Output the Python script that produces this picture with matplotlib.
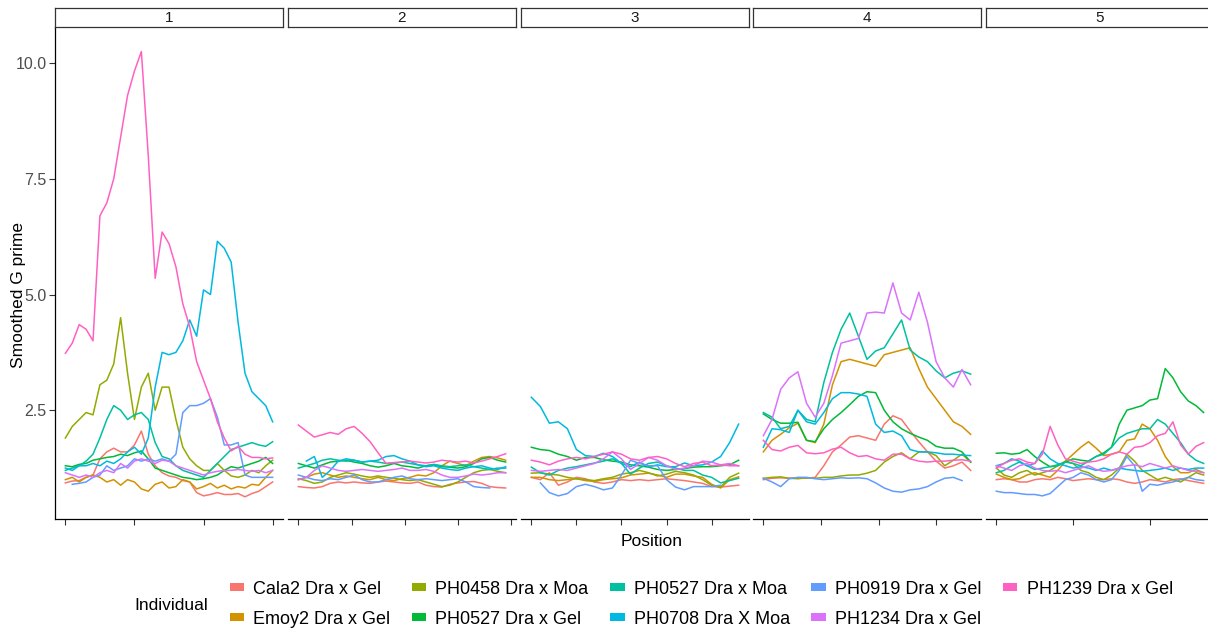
import numpy as np
import matplotlib.pyplot as plt
from matplotlib.patches import Patch

plt.rcParams['font.family'] = ['Liberation Sans', 'DejaVu Sans']

nan = np.nan

individuals = ["Cala2 Dra x Gel", "Emoy2 Dra x Gel", "PH0458 Dra x Moa",
               "PH0527 Dra x Gel", "PH0527 Dra x Moa", "PH0708 Dra X Moa",
               "PH0919 Dra x Gel", "PH1234 Dra x Gel", "PH1239 Dra x Gel"]
# ggplot default hue palette for 9 groups
colours = ["#F8766D", "#D39200", "#93AA00", "#00BA38", "#00C19F",
           "#00B9E3", "#619CFF", "#DB72FB", "#FF61C3"]

chromosomes = ["1", "2", "3", "4", "5"]

# positions (Mb) of the smoothed windows on each chromosome
chr1_pos = np.arange(0, 31, 1.0)
chr2_pos = np.arange(0, 40, 1.5)
chr3_pos = np.arange(0, 47, 2.0)
chr4_pos = np.arange(0, 37, 1.5)
chr5_pos = np.arange(0, 28, 1.0)

# chromosome 1
chr1_cala2 = [0.93, 0.97, 0.98, 1.05, 1.1, 1.45, 1.6, 1.68, 1.6, 1.6, 1.75, 2.05, 1.55, 1.3, 1.15, 1.08,
              1.05, 0.98, 0.95, 0.72, 0.65, 0.68, 0.72, 0.68, 0.68, 0.7, 0.63, 0.7, 0.75, 0.85, 0.95]
chr1_emoy2 = [1.0, 1.05, 0.95, 1.05, 1.1, 1.05, 0.95, 1.0, 0.88, 1.0, 0.95, 0.8, 0.75, 0.9, 0.95, 0.82,
              0.85, 1.0, 0.95, 0.8, 0.85, 0.92, 0.82, 0.88, 0.8, 0.85, 0.82, 0.9, 0.88, 1.05, 1.2]
chr1_ph0458 = [1.9, 2.15, 2.3, 2.45, 2.4, 3.05, 3.15, 3.5, 4.5, 3.3, 2.3, 3.0, 3.3, 2.5, 3.0, 3.0,
               2.3, 1.7, 1.45, 1.3, 1.2, 1.2, 1.35, 1.2, 1.08, 1.05, 1.1, 1.2, 1.15, 1.3, 1.42]
chr1_ph0527g = [1.3, 1.28, 1.33, 1.35, 1.42, 1.45, 1.48, 1.5, 1.55, 1.52, 1.58, 1.62, 1.45, 1.25, 1.2, 1.15,
                1.1, 1.05, 1.03, 1.0, 1.02, 1.05, 1.1, 1.2, 1.28, 1.25, 1.3, 1.35, 1.4, 1.48, 1.35]
chr1_ph0527m = [1.2, 1.25, 1.3, 1.4, 1.55, 1.9, 2.3, 2.6, 2.5, 2.3, 2.4, 2.45, 2.3, 1.8, 1.5, 1.45,
                1.3, 1.2, 1.15, 1.1, 1.05, 1.2, 1.35, 1.5, 1.65, 1.7, 1.75, 1.8, 1.75, 1.72, 1.82]
chr1_ph0708 = [1.25, 1.2, 1.3, 1.3, 1.35, 1.3, 1.4, 1.35, 1.45, 1.6, 1.7, 1.55, 1.9, 3.0, 3.75, 3.7,
               3.75, 4.0, 4.45, 4.1, 5.1, 5.0, 6.15, 6.0, 5.7, 4.4, 3.3, 2.9, 2.75, 2.6, 2.25]
chr1_ph0919 = [nan, 0.9, 0.92, 0.95, 1.05, 1.1, 1.3, 1.2, 1.25, 1.3, 1.45, 1.4, 1.45, 1.4, 1.45, 1.4,
               1.55, 2.45, 2.6, 2.6, 2.65, 2.75, 2.35, 1.75, 1.75, 1.8, 1.1, 1.05, 1.05, 1.05, 1.05]
chr1_ph1234 = [1.15, 1.1, 1.05, 1.1, 1.05, 1.15, 1.2, 1.15, 1.35, 1.25, 1.4, 1.45, 1.4, 1.35, 1.42, 1.4,
               1.3, 1.25, 1.2, 1.15, 1.1, 1.15, 1.18, 1.2, 1.2, 1.22, 1.2, 1.18, 1.2, 1.15, 1.2]
chr1_ph1239 = [3.73, 3.95, 4.35, 4.25, 4.0, 6.7, 6.98, 7.5, 8.4, 9.3, 9.83, 10.25, 8.0, 5.35, 6.35, 6.1,
               5.6, 4.8, 4.3, 3.55, 3.15, 2.75, 2.25, 1.9, 1.62, 1.72, 1.55, 1.48, 1.48, 1.45, 1.47]

# chromosome 2
chr2_cala2 = [0.85, 0.83, 0.82, 0.85, 0.92, 0.95, 0.93, 0.95, 0.93, 0.92, 0.95, 0.97, 0.95, 0.93,
              0.92, 0.95, 0.88, 0.85, 0.84, 0.9, 0.93, 0.95, 0.96, 0.92, 0.85, 0.83, 0.82]
chr2_emoy2 = [1.0, 1.05, 1.12, 1.15, 1.1, 1.05, 1.08, 1.05, 1.02, 1.0, 1.05, 1.0, 0.98, 1.02,
              1.05, 1.1, 1.08, 1.15, 1.3, 1.4, 1.35, 1.3, 1.4, 1.48, 1.5, 1.47, 1.42]
chr2_ph0458 = [1.02, 0.98, 0.92, 0.95, 1.05, 1.1, 1.15, 1.12, 1.08, 1.05, 1.08, 1.05, 1.03, 1.0,
               0.98, 1.0, 0.95, 0.9, 0.85, 0.88, 0.95, 1.05, 1.15, 1.2, 1.22, 1.18, 1.15]
chr2_ph0527g = [1.35, 1.3, 1.25, 1.32, 1.38, 1.4, 1.42, 1.38, 1.35, 1.3, 1.27, 1.3, 1.35, 1.3,
                1.28, 1.25, 1.3, 1.32, 1.28, 1.27, 1.25, 1.28, 1.35, 1.45, 1.48, 1.42, 1.38]
chr2_ph0527m = [1.25, 1.3, 1.35, 1.42, 1.45, 1.42, 1.4, 1.42, 1.38, 1.4, 1.38, 1.35, 1.36, 1.38,
                1.35, 1.32, 1.3, 1.33, 1.3, 1.28, 1.3, 1.32, 1.28, 1.25, 1.22, 1.25, 1.25]
chr2_ph0708 = [nan, 1.4, 1.5, 1.05, 1.2, 1.4, 1.45, 1.42, 1.38, 1.4, 1.42, 1.5, 1.52, 1.45,
               1.4, 1.32, 1.28, 1.3, 1.25, 1.22, 1.2, 1.25, 1.28, 1.3, 1.25, 1.22, 1.28]
chr2_ph0919 = [1.1, 1.05, 1.0, 0.98, 1.02, 1.0, 1.05, 1.1, 1.0, 0.95, 0.95, 1.0, 1.05, 1.08,
               1.02, 1.0, 1.02, 1.0, 0.98, 1.0, 1.02, 0.95, 0.85, 0.83, 0.82, nan, nan]
chr2_ph1234 = [1.0, 1.05, 1.2, 1.3, 1.25, 1.2, 1.18, 1.2, 1.22, 1.2, 1.18, 1.2, 1.22, 1.25,
               1.2, 1.2, 1.22, 1.18, 1.1, 1.05, 1.05, 1.08, 1.12, 1.1, 1.12, 1.15, 1.15]
chr2_ph1239 = [2.18, 2.05, 1.92, 1.97, 2.02, 1.98, 2.1, 2.15, 2.0, 1.82, 1.58, 1.35, 1.37, 1.38,
               1.4, 1.38, 1.36, 1.38, 1.42, 1.4, 1.38, 1.4, 1.36, 1.4, 1.45, 1.5, 1.56]

# chromosome 3
chr3_cala2 = [1.05, 1.0, 1.15, 0.88, 0.95, 1.05, 1.02, 0.95, 0.92, 0.95, 1.0, 0.98, 1.0, 0.98,
              1.0, 1.02, 1.0, 0.98, 0.95, 0.92, 0.85, 0.84, 0.86, 0.88]
chr3_emoy2 = [1.05, 1.05, 1.0, 0.98, 1.0, 1.02, 0.98, 0.96, 1.0, 1.02, 1.04, 1.1, 1.12, 1.14,
              1.1, 1.05, 1.12, 1.12, 1.08, 1.05, 0.9, 0.82, 1.0, 1.06]
chr3_ph0458 = [1.14, 1.15, 1.12, 1.1, 1.05, 1.02, 1.0, 0.98, 1.02, 1.05, 1.12, 1.15, 1.2, 1.15,
               1.08, 1.12, 1.18, 1.15, 1.1, 1.0, 0.88, 0.84, 1.05, 1.14]
chr3_ph0527g = [1.7, 1.65, 1.63, 1.55, 1.5, 1.42, 1.48, 1.48, 1.43, 1.4, 1.38, 1.32, 1.3, 1.27,
                1.22, 1.2, 1.22, 1.24, 1.27, 1.28, 1.28, 1.3, 1.32, 1.42]
chr3_ph0527m = [1.27, 1.15, 1.1, 1.2, 1.25, 1.28, 1.32, 1.36, 1.4, 1.45, 1.35, 1.12, 1.25, 1.35,
                1.38, 1.3, 1.25, 1.2, 1.2, 1.1, 1.05, 0.93, 0.98, 1.03]
chr3_ph0708 = [2.78, 2.58, 2.22, 2.25, 2.1, 1.65, 1.52, 1.5, 1.57, 1.5, 1.35, 1.28, 1.38, 1.28,
               1.32, 1.28, 1.28, 1.36, 1.3, 1.32, 1.38, 1.5, 1.8, 2.2]
chr3_ph0919 = [nan, 0.93, 0.72, 0.65, 0.7, 0.85, 0.9, 0.85, 0.78, 0.82, 1.1, 1.42, 1.35, 1.3,
               1.3, 1.0, 0.84, 0.78, 0.85, 0.85, 0.85, 0.88, nan, nan]
chr3_ph1234 = [1.2, 1.18, 1.2, 1.22, 1.2, 1.25, 1.3, 1.35, 1.45, 1.6, 1.45, 1.22, 1.35, 1.48,
               1.42, 1.3, 1.22, 1.25, 1.3, 1.4, 1.38, 1.32, 1.35, 1.3]
chr3_ph1239 = [1.42, 1.38, 1.32, 1.4, 1.45, 1.48, 1.45, 1.5, 1.55, 1.6, 1.55, 1.45, 1.42, 1.48,
               1.5, 1.45, 1.35, 1.28, 1.35, 1.38, 1.3, 1.32, 1.3, 1.3]

# chromosome 4
chr4_cala2 = [1.0, 1.03, 1.04, 1.03, 1.04, 1.03, 1.05, 1.3, 1.6, 1.75, 1.92, 1.95, 1.9, 1.85,
              2.2, 2.38, 2.3, 2.05, 1.82, 1.6, 1.4, 1.25, 1.3, 1.38, 1.2]
chr4_emoy2 = [1.6, 1.85, 1.98, 2.12, 2.22, 1.85, 1.8, 2.2, 3.05, 3.55, 3.6, 3.55, 3.5, 3.45,
              3.7, 3.75, 3.8, 3.85, 3.4, 3.0, 2.75, 2.5, 2.25, 2.15, 1.98]
chr4_ph0458 = [1.03, 1.05, 1.06, 1.03, 1.02, 1.04, 1.03, 1.05, 1.05, 1.08, 1.1, 1.1, 1.14, 1.2,
               1.38, 1.5, 1.58, 1.45, 1.6, 1.6, 1.52, 1.3, 1.42, 1.55, 1.38]
chr4_ph0527g = [2.42, 2.3, 2.22, 2.22, 2.24, 1.85, 1.82, 2.1, 2.3, 2.45, 2.62, 2.8, 2.9, 2.88,
                2.5, 2.25, 2.1, 2.0, 1.92, 1.85, 1.72, 1.68, 1.68, 1.6, 1.38]
chr4_ph0527m = [2.45, 2.35, 2.1, 2.15, 2.5, 2.3, 2.25, 3.1, 3.75, 4.25, 4.6, 4.1, 3.6, 3.78,
                3.85, 4.15, 4.45, 3.8, 3.65, 3.55, 3.35, 3.2, 3.3, 3.35, 3.28]
chr4_ph0708 = [1.7, 2.1, 2.08, 2.02, 2.5, 2.25, 2.2, 2.45, 2.75, 2.88, 2.88, 2.85, 2.8, 2.2,
               2.02, 2.05, 1.95, 1.65, 1.6, 1.6, 1.58, 1.55, 1.55, 1.53, 1.52]
chr4_ph0919 = [1.03, 0.95, 0.85, 1.02, 1.05, 1.05, 1.02, 1.0, 1.02, 1.04, 1.03, 1.04, 1.02, 0.93,
               0.82, 0.75, 0.73, 0.78, 0.8, 0.85, 0.95, 1.03, 1.05, 0.98, nan]
chr4_ph1234 = [1.95, 2.3, 2.95, 3.2, 3.33, 2.65, 2.35, 2.65, 3.25, 3.95, 4.0, 4.05, 4.6, 4.62,
               4.6, 5.25, 4.6, 4.45, 5.05, 4.4, 3.55, 3.2, 3.0, 3.38, 3.05]
chr4_ph1239 = [1.85, 1.65, 1.62, 1.7, 1.74, 1.58, 1.56, 1.58, 1.66, 1.7, 1.58, 1.5, 1.52, 1.45,
               1.42, 1.55, 1.55, 1.45, 1.4, 1.38, 1.4, 1.4, 1.42, 1.43, 1.4]

# chromosome 5
chr5_cala2 = [1.0, 1.02, 1.0, 0.95, 0.95, 1.0, 1.02, 1.0, 1.05, 1.02, 0.98, 1.0, 1.02, 1.0,
              1.0, 1.02, 1.0, 0.95, 0.92, 0.95, 1.0, 0.98, 0.95, 1.0, 1.02, 0.98, 0.95, 0.92]
chr5_emoy2 = [1.12, 1.05, 1.0, 1.02, 1.1, 1.15, 1.1, 1.05, 1.2, 1.4, 1.55, 1.7, 1.82, 1.68,
              1.52, 1.55, 1.6, 1.85, 1.88, 2.2, 2.1, 1.85, 1.5, 1.28, 1.15, 1.15, 1.22, 1.15]
chr5_ph0458 = [1.25, 1.1, 1.05, 1.15, 1.2, 1.1, 1.15, 1.2, 1.3, 1.4, 1.35, 1.2, 1.15, 1.05,
               1.0, 1.1, 1.25, 1.55, 1.4, 1.2, 1.1, 1.0, 1.05, 1.0, 0.95, 1.05, 1.15, 1.1]
chr5_ph0527g = [1.57, 1.58, 1.55, 1.57, 1.65, 1.5, 1.38, 1.28, 1.32, 1.38, 1.45, 1.42, 1.4, 1.5,
                1.58, 1.7, 2.2, 2.5, 2.55, 2.6, 2.72, 2.75, 3.4, 3.2, 2.9, 2.7, 2.6, 2.45]
chr5_ph0527m = [1.15, 1.2, 1.3, 1.38, 1.3, 1.22, 1.25, 1.28, 1.3, 1.38, 1.35, 1.3, 1.4, 1.5,
                1.55, 1.7, 1.9, 2.0, 2.05, 2.1, 2.1, 2.3, 2.2, 2.0, 1.8, 1.55, 1.42, 1.35]
chr5_ph0708 = [1.3, 1.35, 1.45, 1.4, 1.3, 1.35, 1.62, 1.45, 1.35, 1.3, 1.25, 1.28, 1.25, 1.2,
               1.25, 1.2, 1.25, 1.22, 1.2, 1.18, 1.2, 1.22, 1.25, 1.2, 1.25, 1.22, 1.25, 1.25]
chr5_ph0919 = [0.75, 0.72, 0.72, 0.7, 0.68, 0.68, 0.65, 0.7, 0.85, 1.0, 1.05, 1.15, 1.1, 1.0,
               0.95, 1.0, 1.2, 1.5, 1.3, 0.75, 0.9, 0.88, 0.92, 0.95, 1.0, 1.05, 1.0, 0.98]
chr5_ph1234 = [1.3, 1.25, 1.2, 1.3, 1.35, 1.25, 1.2, 1.18, 1.2, 1.15, 1.2, 1.25, 1.3, 1.22,
               1.18, 1.2, 1.25, 1.3, 1.32, 1.28, 1.35, 1.3, 1.25, 1.3, 1.25, 1.2, 1.18, 1.15]
chr5_ph1239 = [1.25, 1.35, 1.42, 1.45, 1.38, 1.35, 1.55, 2.15, 1.75, 1.45, 1.4, 1.35, 1.38, 1.4,
               1.45, 1.55, 1.6, 1.55, 1.7, 1.72, 1.8, 1.95, 2.0, 2.25, 1.75, 1.55, 1.72, 1.8]

positions = [chr1_pos, chr2_pos, chr3_pos, chr4_pos, chr5_pos]
gprime = [
    [chr1_cala2, chr1_emoy2, chr1_ph0458, chr1_ph0527g, chr1_ph0527m, chr1_ph0708, chr1_ph0919, chr1_ph1234, chr1_ph1239],
    [chr2_cala2, chr2_emoy2, chr2_ph0458, chr2_ph0527g, chr2_ph0527m, chr2_ph0708, chr2_ph0919, chr2_ph1234, chr2_ph1239],
    [chr3_cala2, chr3_emoy2, chr3_ph0458, chr3_ph0527g, chr3_ph0527m, chr3_ph0708, chr3_ph0919, chr3_ph1234, chr3_ph1239],
    [chr4_cala2, chr4_emoy2, chr4_ph0458, chr4_ph0527g, chr4_ph0527m, chr4_ph0708, chr4_ph0919, chr4_ph1234, chr4_ph1239],
    [chr5_cala2, chr5_emoy2, chr5_ph0458, chr5_ph0527g, chr5_ph0527m, chr5_ph0708, chr5_ph0919, chr5_ph1234, chr5_ph1239],
]

y_ticks = [2.5, 5.0, 7.5, 10.0]

# layout in pixels
W, H = 1208, 629
fig = plt.figure(figsize=(W / 100, H / 100), dpi=100)
panel_left = [55, 288, 521, 753, 986]
panel_w = 228
panel_top, panel_bottom = 27, 519
strip_top = 8

for i, chrom in enumerate(chromosomes):
    ax = fig.add_axes([panel_left[i] / W, (H - panel_bottom) / H,
                       panel_w / W, (panel_bottom - panel_top) / H])
    x = positions[i]
    for vals, col in zip(gprime[i], colours):
        ax.plot(x, vals, color=col, lw=1.1)
    span = x[-1] - x[0]
    ax.set_xlim(x[0] - 0.05 * span, x[-1] + 0.05 * span)
    ax.set_ylim(0.15, 10.78)
    ax.set_xticks(np.arange(0, x[-1] + 0.05 * span, 10))
    ax.set_xticklabels([])
    ax.tick_params(axis='x', length=4, width=0.8, color='#333333')
    for s in ['top', 'right']:
        ax.spines[s].set_visible(False)
    ax.spines['bottom'].set_linewidth(0.9)
    if i == 0:
        ax.set_yticks(y_ticks)
        ax.set_yticklabels(["%.1f" % t for t in y_ticks], fontsize=11.5, color='#4D4D4D')
        ax.tick_params(axis='y', length=4, width=0.8, color='#333333', pad=2)
        ax.spines['left'].set_linewidth(0.9)
    else:
        ax.spines['left'].set_visible(False)
        ax.set_yticks([])

    # facet strip
    st = fig.add_axes([panel_left[i] / W, (H - panel_top) / H,
                       panel_w / W, (panel_top - strip_top) / H])
    st.set_xticks([])
    st.set_yticks([])
    for s in st.spines.values():
        s.set_linewidth(0.9)
        s.set_color('#333333')
    st.text(0.5, 0.45, chrom, ha='center', va='center', fontsize=11, color='#1A1A1A',
            transform=st.transAxes)

fig.text(19 / W, 1 - 295 / H, "Smoothed G prime", rotation=90, ha='center', va='center',
         fontsize=12.5)
fig.text(652 / W, 1 - 541 / H, "Position", ha='center', va='center', fontsize=12.5)

handles = [Patch(facecolor=c, edgecolor='none') for c in colours]
fig.legend(handles, individuals, ncol=5, loc='center left',
           bbox_to_anchor=(226 / W, 1 - 604 / H), frameon=False, fontsize=13,
           handlelength=0.8, handleheight=0.35, handletextpad=0.5,
           columnspacing=1.2, labelspacing=0.72, borderaxespad=0, borderpad=0.2)
fig.text(171 / W, 1 - 606 / H, "Individual", ha='center', va='center', fontsize=12.5)

fig.savefig("out.png", dpi=100)
